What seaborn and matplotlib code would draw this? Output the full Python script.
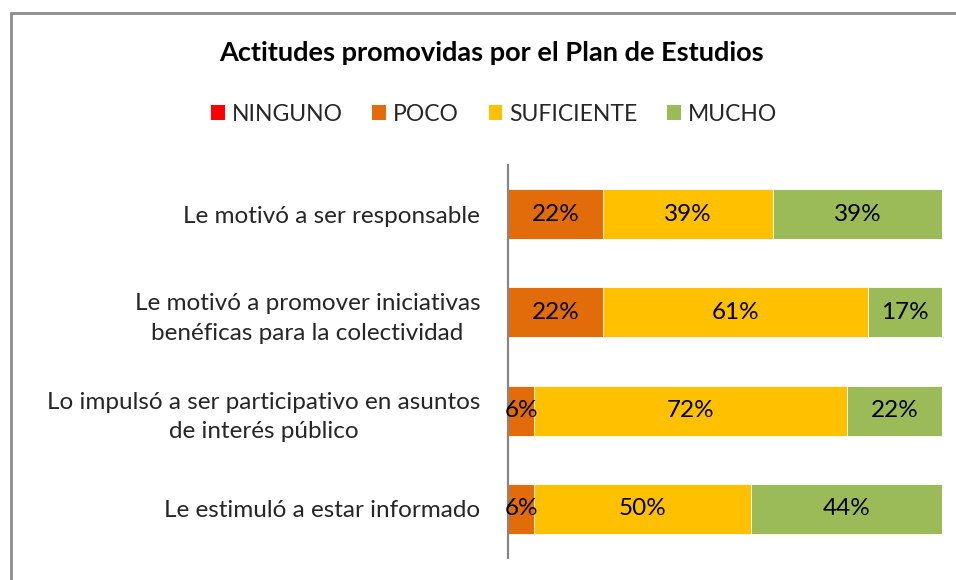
import matplotlib
matplotlib.use("Agg")
import matplotlib.pyplot as plt
import seaborn as sns
import pandas as pd
from matplotlib.patches import Patch, Rectangle

categories = [
    "Le motivó a ser responsable",
    "Le motivó a promover iniciativas\nbenéficas para la colectividad",
    "Lo impulsó a ser participativo en asuntos\nde interés público",
    "Le estimuló a estar informado",
]
series_names = ["NINGUNO", "POCO", "SUFICIENTE", "MUCHO"]
ninguno = [0, 0, 0, 0]
poco = [22, 22, 6, 6]
suficiente = [39, 61, 72, 50]
mucho = [39, 17, 22, 44]
colors = ["#ff0000", "#e36c0a", "#ffc000", "#9bbb59"]
title = "Actitudes promovidas por el Plan de Estudios"

sns.set_theme(style="white")
plt.rcParams["font.family"] = ["Lato", "DejaVu Sans"]

df = pd.DataFrame({"cat": categories, "NINGUNO": ninguno, "POCO": poco,
                   "SUFICIENTE": suficiente, "MUCHO": mucho})
cum = df[series_names].cumsum(axis=1)
starts = cum.shift(1, axis=1).fillna(0)

W, H = 956, 580
fig = plt.figure(figsize=(W / 100, H / 100), dpi=100)
ax = fig.add_axes([508 / W, 1 - 558 / H, 434 / W, 393 / H])

# stacked bars: draw cumulative totals from the last series backwards
for name, color in reversed(list(zip(series_names, colors))):
    sns.barplot(x=cum[name], y=df["cat"], orient="h", color=color,
                width=0.51, ax=ax, edgecolor="white", linewidth=0.6,
                saturation=1)

fs = 17.5
for i, cat in enumerate(categories):
    for name in series_names:
        v = df.loc[i, name]
        if v > 0:
            ax.text(starts.loc[i, name] + v / 2, i, f"{v}%", ha="center",
                    va="center", fontsize=fs, color="black")

ax.set_xlim(0, 100)
ax.set_ylim(3.5, -0.5)
ax.set_xlabel("")
ax.set_ylabel("")
ax.set_xticks([])
ax.tick_params(axis="y", length=0, pad=20, labelsize=fs)
for lbl in ax.get_yticklabels():
    lbl.set_multialignment("center")
    lbl.set_linespacing(1.5)
for s in ["top", "right", "bottom"]:
    ax.spines[s].set_visible(False)
ax.spines["left"].set_color("#868686")
ax.spines["left"].set_linewidth(1.6)
ax.patch.set_alpha(0)

fig.text(491 / W, 1 - 53 / H, title, ha="center", va="center",
         fontsize=19.5, fontweight="bold", color="black")

handles = [Patch(facecolor=c, edgecolor="none") for c in colors]
fig.legend(handles, series_names, loc="center", bbox_to_anchor=(494 / W, 1 - 114 / H),
           ncol=4, frameon=False, fontsize=16.5, handlelength=0.6, handleheight=0.6,
           handletextpad=0.3, columnspacing=1.3)

fig.patches.append(Rectangle((10.5 / W, -0.2), 2, 1.2 - 12.5 / H, transform=fig.transFigure,
                             facecolor="none", edgecolor="#8c8c8c", linewidth=2))

fig.savefig("out.png", dpi=100)
